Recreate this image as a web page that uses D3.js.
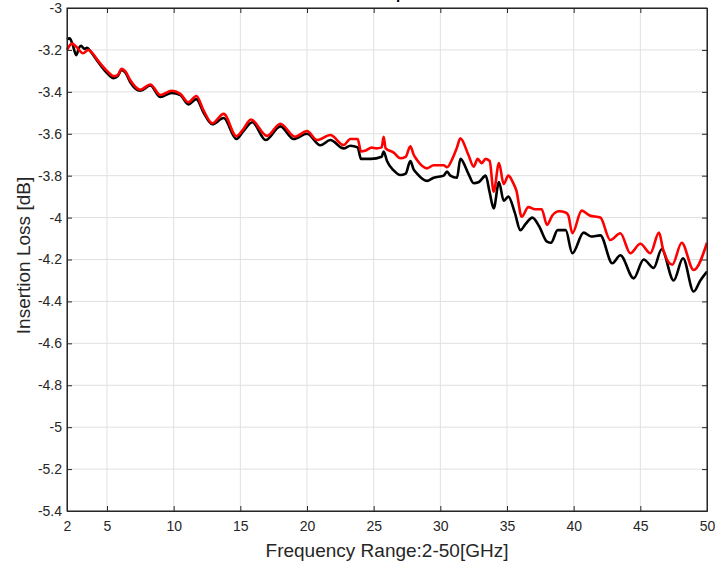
<!DOCTYPE html>
<meta charset="utf-8">
<style>

body {
  margin: 0;
  font-family: "Liberation Sans", Arial, sans-serif;
  background: #fff;
}

.grid line {
  stroke: #e0e0e0;
  stroke-width: 1px;
}

.tick text {
  font-size: 14px;
  fill: #262626;
}

.trace {
  fill: none;
  stroke-width: 2.6px;
  stroke-linejoin: round;
}

</style>
<body>
<script src="https://d3js.org/d3.v7.min.js"></script>
<script>

const width = 715;
const height = 565;
const margin = {top: 8, right: 8, bottom: 54, left: 67};
const innerWidth = width - margin.left - margin.right;
const innerHeight = height - margin.top - margin.bottom;

// axis ticks
const xTicks = [2, 5, 10, 15, 20, 25, 30, 35, 40, 45, 50];
const yTicks = [-3, -3.2, -3.4, -3.6, -3.8, -4, -4.2, -4.4, -4.6, -4.8, -5, -5.2, -5.4];

// black trace: [GHz, dB]
const blackTrace = [
  [2.0, -3.15], [2.2, -3.145], [2.4, -3.17], [2.7, -3.225], [2.9, -3.19], [3.05, -3.18],
  [3.3, -3.195], [3.5, -3.19], [3.8, -3.21], [4.25, -3.25], [5.0, -3.31], [5.5, -3.335],
  [5.8, -3.325], [6.1, -3.295], [6.4, -3.31], [6.75, -3.355], [7.5, -3.395], [8.25, -3.37],
  [9.0, -3.425], [9.85, -3.405], [10.5, -3.415], [11.1, -3.46], [11.7, -3.435], [12.25, -3.5],
  [12.9, -3.555], [13.75, -3.525], [14.7, -3.625], [15.2, -3.59], [15.9, -3.545], [16.9, -3.63],
  [18.0, -3.565], [19.0, -3.625], [20.0, -3.6], [21.0, -3.655], [21.75, -3.63], [22.75, -3.67],
  [23.25, -3.657], [23.8, -3.665], [24.05, -3.72], [24.8, -3.72], [25.6, -3.71], [25.75, -3.685],
  [26.0, -3.73], [26.5, -3.775], [27.0, -3.797], [27.4, -3.79], [27.75, -3.73], [28.0, -3.77],
  [28.25, -3.79], [29.0, -3.825], [29.5, -3.81], [30.25, -3.8], [30.5, -3.78], [30.75, -3.8],
  [31.25, -3.81], [31.5, -3.72], [32.1, -3.79], [32.5, -3.836], [32.9, -3.83], [33.4, -3.8],
  [33.7, -3.88], [34.0, -3.956], [34.4, -3.83], [34.75, -3.92], [35.1, -3.9], [35.6, -3.98],
  [36.0, -4.06], [36.4, -4.03], [36.9, -4.0], [37.4, -4.04], [38.0, -4.115], [38.3, -4.12],
  [38.8, -4.06], [39.4, -4.06], [39.9, -4.17], [40.75, -4.072], [41.3, -4.09], [42.0, -4.085],
  [42.9, -4.218], [43.5, -4.18], [44.5, -4.29], [45.25, -4.2], [46.0, -4.24], [46.6, -4.151],
  [47.5, -4.3], [48.2, -4.194], [49.0, -4.353], [49.5, -4.3], [50.0, -4.258]
];

// red trace: [GHz, dB]
const redTrace = [
  [2.0, -3.2], [2.37, -3.17], [2.7, -3.185], [3.2, -3.216], [3.6, -3.2], [3.9, -3.215],
  [4.25, -3.245], [5.0, -3.3], [5.5, -3.325], [5.8, -3.32], [6.1, -3.29], [6.4, -3.305],
  [6.75, -3.345], [7.5, -3.39], [8.25, -3.365], [9.0, -3.415], [9.85, -3.395], [10.5, -3.41],
  [11.1, -3.45], [11.7, -3.42], [12.25, -3.49], [12.9, -3.55], [13.75, -3.505], [14.7, -3.612],
  [15.2, -3.58], [15.8, -3.532], [17.0, -3.61], [18.0, -3.552], [19.1, -3.614], [20.0, -3.587],
  [20.75, -3.63], [21.75, -3.606], [22.75, -3.654], [23.25, -3.625], [23.8, -3.625], [24.05, -3.685],
  [24.4, -3.68], [24.85, -3.666], [25.2, -3.67], [25.6, -3.665], [25.75, -3.615], [25.9, -3.67],
  [26.5, -3.69], [27.0, -3.717], [27.4, -3.71], [27.75, -3.66], [28.0, -3.7], [28.25, -3.725],
  [29.0, -3.765], [29.5, -3.75], [30.25, -3.75], [30.5, -3.76], [30.9, -3.72], [31.25, -3.665],
  [31.5, -3.622], [32.1, -3.7], [32.5, -3.757], [32.8, -3.72], [33.1, -3.74], [33.4, -3.72],
  [33.7, -3.73], [34.0, -3.876], [34.4, -3.74], [34.75, -3.84], [35.1, -3.8], [35.5, -3.84],
  [35.7, -3.87], [36.1, -3.996], [36.6, -3.95], [37.1, -3.96], [37.6, -3.96], [38.0, -4.035],
  [38.4, -3.99], [38.9, -3.97], [39.4, -3.976], [39.6, -3.99], [39.9, -4.075], [40.6, -3.967],
  [41.2, -3.99], [42.0, -4.0], [42.75, -4.107], [43.5, -4.075], [44.25, -4.17], [45.0, -4.125],
  [45.75, -4.17], [46.4, -4.072], [46.7, -4.15], [47.4, -4.225], [48.1, -4.12], [49.0, -4.25],
  [50.0, -4.12]
];

const xScale = d3.scaleLinear()
    .domain([2, 50])
    .range([0, innerWidth]);

const yScale = d3.scaleLinear()
    .domain([-5.4, -3])
    .range([innerHeight, 0]);

const svg = d3.select("body").append("svg")
    .attr("width", width)
    .attr("height", height)
  .append("g")
    .attr("transform", `translate(${margin.left}, ${margin.top})`);

// title, mostly clipped above the frame
svg.append("text")
    .attr("x", innerWidth / 2 - 34)
    .attr("y", -9)
    .attr("text-anchor", "middle")
    .style("font-size", "15px")
    .style("font-weight", "bold")
    .text("Insertion Loss Comparison");

// grid
svg.append("g")
    .attr("class", "grid")
  .selectAll("line")
  .data(xTicks)
  .join("line")
    .attr("x1", d => xScale(d))
    .attr("x2", d => xScale(d))
    .attr("y1", 0)
    .attr("y2", innerHeight);

svg.append("g")
    .attr("class", "grid")
  .selectAll("line")
  .data(yTicks)
  .join("line")
    .attr("x1", 0)
    .attr("x2", innerWidth)
    .attr("y1", d => yScale(d))
    .attr("y2", d => yScale(d));

const line = d3.line()
    .curve(d3.curveMonotoneX)
    .x(d => xScale(d[0]))
    .y(d => yScale(d[1]));

svg.append("path")
    .attr("class", "trace")
    .attr("d", line(blackTrace))
    .style("stroke", "#000");

svg.append("path")
    .attr("class", "trace")
    .attr("d", line(redTrace))
    .style("stroke", "#ff0000");

// axes, ticks pointing inward on all four sides
const fmt = d => d3.format("")(d).replace("−", "-");

svg.append("g")
    .attr("transform", `translate(0, ${innerHeight})`)
    .call(d3.axisBottom(xScale).tickValues(xTicks).tickSizeInner(-5).tickSizeOuter(0).tickPadding(10).tickFormat(fmt));

svg.append("g")
    .call(d3.axisTop(xScale).tickValues(xTicks).tickSizeInner(-5).tickSizeOuter(0))
    .call(g => g.selectAll("text").remove());

svg.append("g")
    .call(d3.axisLeft(yScale).tickValues(yTicks).tickSizeInner(-5).tickSizeOuter(0).tickPadding(5).tickFormat(fmt));

svg.append("g")
    .attr("transform", `translate(${innerWidth}, 0)`)
    .call(d3.axisRight(yScale).tickValues(yTicks).tickSizeInner(-5).tickSizeOuter(0))
    .call(g => g.selectAll("text").remove());

svg.selectAll(".domain, .tick line")
    .attr("stroke", "#262626");

svg.append("rect")
    .attr("width", innerWidth)
    .attr("height", innerHeight)
    .attr("fill", "none")
    .attr("stroke", "#262626")
    .attr("stroke-width", 1);

// axis labels
svg.append("text")
    .attr("x", innerWidth / 2)
    .attr("y", innerHeight + 46)
    .attr("text-anchor", "middle")
    .style("font-size", "19px")
    .style("fill", "#262626")
    .text("Frequency Range:2-50[GHz]");

svg.append("text")
    .attr("transform", `translate(${-37}, ${innerHeight / 2 - 4}) rotate(-90)`)
    .attr("text-anchor", "middle")
    .style("font-size", "19px")
    .style("fill", "#262626")
    .text("Insertion Loss [dB]");

</script>
